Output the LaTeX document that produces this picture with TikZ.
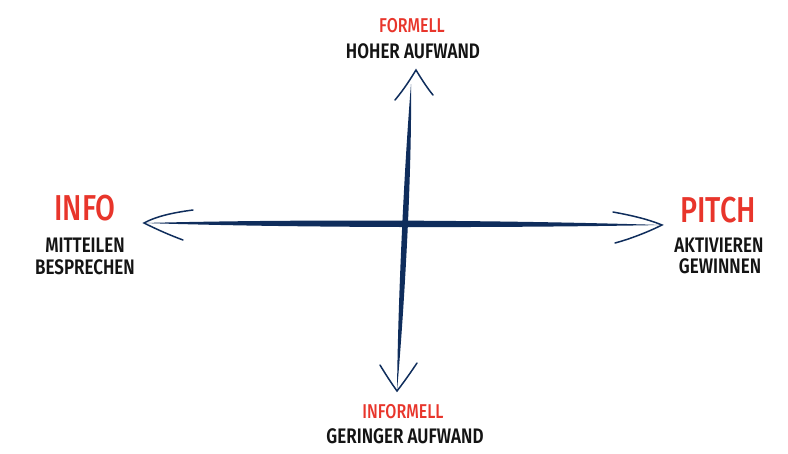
\documentclass[tikz,border=0pt]{standalone}
\usepackage{fontspec}
\setmainfont{Fira Sans}[UprightFont=* Medium, BoldFont=* SemiBold,
  FakeStretch=0.8, BoldFeatures={FakeStretch=0.81}]
\usepackage{xcolor}
\usetikzlibrary{positioning,calc}

\definecolor{navy}{HTML}{0F2D5C}
\definecolor{signal}{HTML}{E8352B}
\definecolor{ink}{HTML}{141414}

\tikzset{
  head/.style={text=signal, font=\fontsize{36}{36}\selectfont, anchor=base, inner sep=0pt},
  small/.style={text=signal, font=\fontsize{20}{20}\selectfont, anchor=base, inner sep=0pt},
  sub/.style={text=ink, font=\fontsize{21}{21}\selectfont\bfseries, anchor=base, inner sep=0pt},
  brush/.style={fill=navy},
  wing/.style={draw=navy, line width=1.5pt, line cap=round},
}

\begin{document}
\begin{tikzpicture}[x=1pt, y=-1pt]
  \useasboundingbox (0,0) rectangle (788,453);

  % labels
  \node[small] (formell) at (412,32) {FORMELL};
  \node[sub] (hoch) at (413,58) {HOHER AUFWAND};
  \node[head] (info) at (85,220) {INFO};
  \node[sub] (mitteilen) at (85,252) {MITTEILEN};
  \node[sub] (besprechen) at (85,274) {BESPRECHEN};
  \node[head] (pitch) at (718,222) {PITCH};
  \node[sub] (aktivieren) at (719,252) {AKTIVIEREN};
  \node[sub] (gewinnen) at (720,273) {GEWINNEN};
  \node[small] (informell) at (403,418) {INFORMELL};
  \node[sub] (gering) at (405,443) {GERINGER AUFWAND};

  % axis ends
  \coordinate (top) at (416,70);
  \coordinate (bot) at (397,391);
  \coordinate (lft) at (144,223);
  \coordinate (rgt) at (662,225);

  % brush strokes
  \fill[brush] (411,84) .. controls (404,170) and (398,300) .. (bot)
    .. controls (405,300) and (412,170) .. (411,84) -- cycle;
  \fill[brush] (lft) .. controls (300,219) and (500,220) .. (rgt)
    .. controls (500,228) and (300,228) .. (lft) -- cycle;

  % arrow heads
  \draw[wing] (395,100) .. controls (405,88) and (411,78) .. (top)
    .. controls (422,80) and (428,89) .. (433,95);
  \draw[wing] (380,365) .. controls (386,375) and (392,384) .. (bot)
    .. controls (404,382) and (411,372) .. (417,363);
  \draw[wing] (193,210) .. controls (170,213) and (155,217) .. (lft)
    .. controls (158,230) and (172,236) .. (183,240);
  \draw[wing] (613,212) .. controls (635,216) and (650,220) .. (rgt)
    .. controls (648,232) and (630,239) .. (615,243);
\end{tikzpicture}
\end{document}
